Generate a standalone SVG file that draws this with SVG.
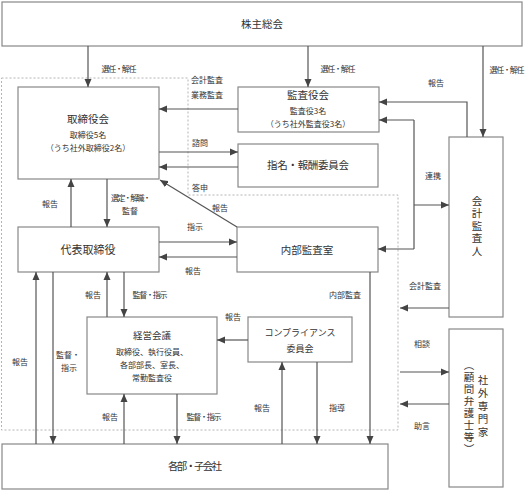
<svg xmlns="http://www.w3.org/2000/svg" width="530" height="490" viewBox="0 0 530 490">
<style>
text{font-family:"Noto Sans CJK JP","Noto Sans CJK SC",sans-serif;fill:#333;}
.box{fill:#fff;stroke:#888;stroke-width:1.2;}
.t{font-size:10.5px;text-anchor:middle;}
.s{font-size:8px;text-anchor:middle;}
.l{font-size:8px;text-anchor:middle;}
.ll{font-size:8px;text-anchor:start;}
.c line,.c path{stroke:#555;stroke-width:1.2;fill:none;}
.a{marker-end:url(#ah);}
.v{writing-mode:vertical-rl;text-anchor:middle;font-size:10.5px;}
.dot{fill:none;stroke:#b4b4b4;stroke-width:1;stroke-dasharray:2,2;}
</style>
<defs>
<marker id="ah" markerUnits="userSpaceOnUse" markerWidth="9" markerHeight="8" refX="8" refY="4" orient="auto">
<path d="M0,0.5 L8,4 L0,7.5 z" fill="#444"/>
</marker>
</defs>
<rect width="530" height="490" fill="#fff"/>
<path class="dot" d="M1.5,78 H188 V195 H398 V430 H1.5 Z"/>

<g id="kabunushi"><rect class="box" x="2" y="2" width="520" height="44"/><text class="t" x="262" y="28">株主総会</text></g>
<g id="torishimariyakukai"><rect class="box" x="18" y="87" width="141" height="92"/>
<text class="t" x="88" y="123">取締役会</text><text class="s" x="88" y="138">取締役5名</text><text class="s" x="88" y="151">（うち社外取締役2名）</text></g>
<g id="kansayakukai"><rect class="box" x="238" y="87" width="141" height="45"/>
<text class="t" x="308" y="99">監査役会</text><text class="s" x="308" y="114">監査役3名</text><text class="s" x="308" y="127">（うち社外監査役3名）</text></g>
<g id="shimei"><rect class="box" x="238" y="144" width="140" height="43"/><text class="t" x="308" y="169" textLength="82" lengthAdjust="spacing">指名・報酬委員会</text></g>
<g id="kaikei"><rect class="box" x="449" y="137" width="54" height="180"/><text class="v" x="477" y="227" style="letter-spacing:2px">会計監査人</text></g>
<g id="daihyo"><rect class="box" x="18" y="227" width="141" height="45"/><text class="t" x="88" y="254" style="font-size:11px">代表取締役</text></g>
<g id="naibu"><rect class="box" x="237" y="227" width="141" height="45"/><text class="t" x="307" y="254">内部監査室</text></g>
<g id="keiei"><rect class="box" x="87" y="317" width="130" height="77"/>
<text class="t" x="152" y="339" style="font-size:9.5px">経営会議</text>
<text class="s" x="152" y="355">取締役、執行役員、</text>
<text class="s" x="152" y="368">各部部長、室長、</text>
<text class="s" x="152" y="381">常勤監査役</text></g>
<g id="compliance"><rect class="box" x="248" y="317" width="104" height="45"/>
<text class="t" x="300" y="336" style="font-size:9px">コンプライアンス</text><text class="t" x="300" y="352" style="font-size:9px">委員会</text></g>
<g id="kakubu"><rect class="box" x="2" y="444" width="386" height="45"/><text class="t" x="195" y="470" textLength="54" lengthAdjust="spacing">各部・子会社</text></g>
<g id="shagai"><rect class="box" x="449" y="329" width="54" height="158"/>
<text class="v" x="483" y="407" style="letter-spacing:2.5px">社外専門家</text>
<text class="v" x="469" y="408" style="letter-spacing:1.5px">（顧問弁護士等）</text></g>

<g id="connectors" class="c">
<line class="a" x1="88" y1="46" x2="88" y2="87"/>
<line class="a" x1="308" y1="46" x2="308" y2="87"/>
<line class="a" x1="483" y1="46" x2="483" y2="137"/>
<path class="a" d="M467,137 V102 H379"/>
<line x1="414" y1="120" x2="414" y2="249"/>
<line class="a" x1="414" y1="120" x2="379" y2="120"/>
<line class="a" x1="414" y1="205" x2="449" y2="205"/>
<line class="a" x1="414" y1="249" x2="378" y2="249"/>
<line class="a" x1="238" y1="109" x2="159" y2="109"/>
<line class="a" x1="159" y1="152" x2="238" y2="152"/>
<line class="a" x1="238" y1="167" x2="159" y2="167"/>
<line class="a" x1="237" y1="227" x2="160" y2="180"/>
<line class="a" x1="71" y1="227" x2="71" y2="179"/>
<line class="a" x1="107" y1="179" x2="107" y2="227"/>
<line class="a" x1="159" y1="242" x2="237" y2="242"/>
<line class="a" x1="237" y1="257" x2="159" y2="257"/>
<line class="a" x1="107" y1="317" x2="107" y2="272"/>
<line class="a" x1="124" y1="272" x2="124" y2="317"/>
<line class="a" x1="36" y1="444" x2="36" y2="272"/>
<line class="a" x1="53" y1="272" x2="53" y2="444"/>
<line class="a" x1="124" y1="444" x2="124" y2="394"/>
<line class="a" x1="177" y1="394" x2="177" y2="444"/>
<line class="a" x1="248" y1="340" x2="217" y2="340"/>
<line class="a" x1="282" y1="444" x2="282" y2="362"/>
<line class="a" x1="317" y1="362" x2="317" y2="444"/>
<line class="a" x1="370" y1="272" x2="370" y2="444"/>
<line class="a" x1="449" y1="308" x2="400" y2="308"/>
<line class="a" x1="400" y1="372" x2="449" y2="372"/>
<line class="a" x1="449" y1="404" x2="400" y2="404"/>
</g>

<g id="labels">
<text class="l" x="119" y="72" textLength="35" lengthAdjust="spacing">選任・解任</text>
<text class="l" x="338" y="72" textLength="35" lengthAdjust="spacing">選任・解任</text>
<text class="l" x="507" y="73" textLength="35" lengthAdjust="spacing">選任・解任</text>
<text class="l" x="436" y="86">報告</text>
<text class="ll" x="191" y="83">会計監査</text>
<text class="ll" x="191" y="98">業務監査</text>
<text class="ll" x="192" y="146">諮問</text>
<text class="ll" x="192" y="191">答申</text>
<text class="l" x="433" y="179">連携</text>
<text class="l" x="50" y="207">報告</text>
<text class="l" x="131" y="201" textLength="40" lengthAdjust="spacing">選定・解職・</text>
<text class="l" x="130" y="214">監督</text>
<text class="l" x="220" y="211">報告</text>
<text class="l" x="195" y="230">指示</text>
<text class="l" x="193" y="274">報告</text>
<text class="l" x="93" y="298">報告</text>
<text class="l" x="150" y="298" textLength="35" lengthAdjust="spacing">監督・指示</text>
<text class="l" x="345" y="298">内部監査</text>
<text class="l" x="425" y="289">会計監査</text>
<text class="l" x="233" y="320">報告</text>
<text class="l" x="20" y="365">報告</text>
<text class="l" x="68" y="358">監督・</text>
<text class="l" x="69" y="371">指示</text>
<text class="l" x="422" y="347">相談</text>
<text class="l" x="110" y="420">報告</text>
<text class="l" x="204" y="420" textLength="35" lengthAdjust="spacing">監督・指示</text>
<text class="l" x="262" y="411">報告</text>
<text class="l" x="337" y="411">指導</text>
<text class="l" x="422" y="429">助言</text>
</g>
</svg>
